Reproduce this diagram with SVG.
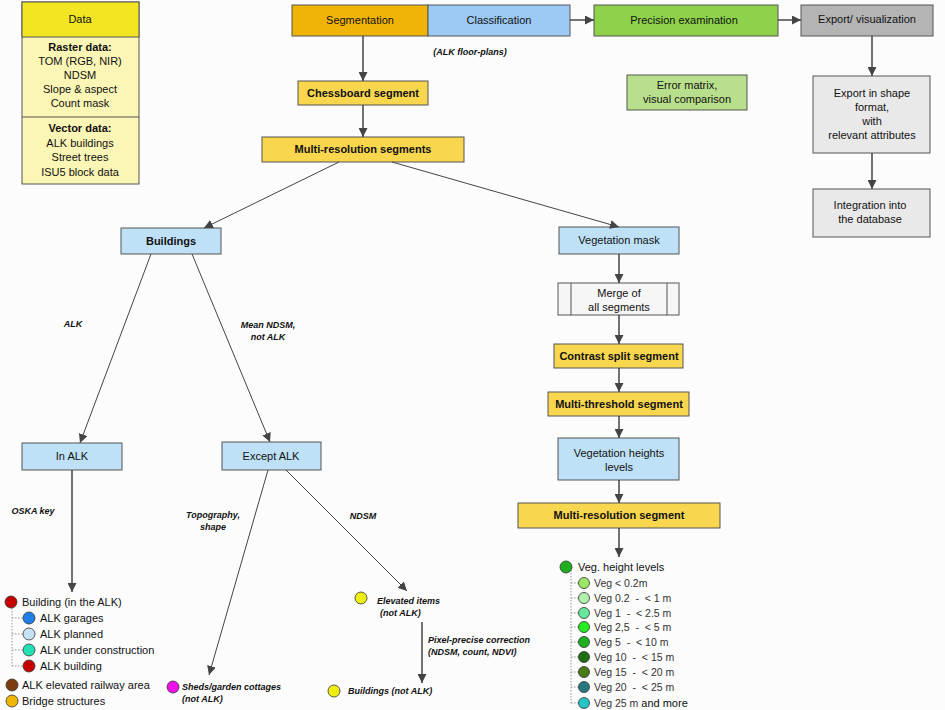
<svg xmlns="http://www.w3.org/2000/svg" width="945" height="710" viewBox="0 0 945 710">
<defs>
<marker id="ah" viewBox="0 0 10 10" refX="10" refY="5" markerWidth="9" markerHeight="9" markerUnits="userSpaceOnUse" orient="auto"><path d="M0,0 L10,5 L0,10 z" fill="#444"/></marker>
<style>
text{font-family:"Liberation Sans",Arial,sans-serif;fill:#111;}
.t{font-size:11px;text-anchor:middle;}
.b{font-weight:bold;}
.lab{font-size:9px;font-weight:bold;font-style:italic;}
.box{stroke:#555;stroke-width:1;}
.yel{fill:#f8d64e;}
.blu{fill:#bfe1f7;}
.lg{fill:#e9e9e9;}
.con line{stroke:#444;stroke-width:1;marker-end:url(#ah);}
.con .v{stroke-width:1.5;}
.tree{stroke:#999;stroke-width:1;stroke-dasharray:1.5 1.5;fill:none;}
.dot{stroke:#333;stroke-width:0.8;}
.leg{font-size:11px;}
.vleg{font-size:10.5px;fill:#333;}
</style>
</defs>
<rect width="945" height="710" fill="#fcfcfc"/>

<g id="data">
<rect x="22" y="2" width="117" height="182" fill="#fbf6b6" class="box"/>
<rect x="22" y="2" width="117" height="35" fill="#f2e622" class="box"/>
<line x1="22" y1="117" x2="139" y2="117" stroke="#555"/>
<text class="t" x="80" y="23">Data</text>
<text class="t b" x="80" y="51">Raster data:</text>
<text class="t" x="80" y="65">TOM (RGB, NIR)</text>
<text class="t" x="80" y="79">NDSM</text>
<text class="t" x="80" y="93">Slope &amp; aspect</text>
<text class="t" x="80" y="107">Count mask</text>
<text class="t b" x="80" y="132">Vector data:</text>
<text class="t" x="80" y="147">ALK buildings</text>
<text class="t" x="80" y="161">Street trees</text>
<text class="t" x="80" y="176">ISU5 block data</text>
</g>

<g id="segmentation"><rect x="292" y="5" width="136" height="31" fill="#f0b406" class="box"/><text class="t" x="360" y="24">Segmentation</text></g>
<g id="classification"><rect x="428" y="5" width="142" height="31" fill="#9ccaf4" class="box"/><text class="t" x="499" y="24">Classification</text></g>
<g id="precision"><rect x="594" y="5" width="184" height="31" fill="#8ed24c" class="box"/><text class="t" x="684" y="24">Precision examination</text></g>
<g id="export"><rect x="801" y="5" width="132" height="31" fill="#b4b4b4" class="box"/><text class="t" x="867" y="23">Export/ visualization</text></g>
<text class="lab" x="470" y="55" text-anchor="middle" font-size="10">(ALK floor-plans)</text>

<g id="chessboard"><rect x="298" y="81" width="130" height="24" class="box yel"/><text class="t b" x="363" y="97">Chessboard segment</text></g>
<g id="multires"><rect x="262" y="137" width="202" height="25" class="box yel"/><text class="t b" x="363" y="153">Multi-resolution segments</text></g>
<g id="errormatrix"><rect x="627" y="75" width="120" height="35" fill="#b8e08c" class="box"/><text class="t" x="687" y="89">Error matrix,</text><text class="t" x="687" y="103">visual comparison</text></g>
<g id="exportshape"><rect x="813" y="76" width="117" height="77" class="box lg"/>
<text class="t" x="872" y="97">Export in shape</text><text class="t" x="872" y="111">format,</text><text class="t" x="872" y="125">with</text><text class="t" x="872" y="139">relevant attributes</text></g>
<g id="integration"><rect x="813" y="189" width="117" height="48" class="box lg"/><text class="t" x="870" y="209">Integration into</text><text class="t" x="870" y="223">the database</text></g>

<g id="buildings"><rect x="121" y="228" width="100" height="26" class="box blu"/><text class="t b" x="171" y="245">Buildings</text></g>
<g id="vegmask"><rect x="559" y="227" width="120" height="27" class="box blu"/><text class="t" x="619" y="244">Vegetation mask</text></g>
<g id="merge"><rect x="558" y="283" width="121" height="32" fill="#f6f6f6" class="box"/><line x1="571" y1="283" x2="571" y2="315" stroke="#555"/><line x1="667" y1="283" x2="667" y2="315" stroke="#555"/><text class="t" x="619" y="297">Merge of</text><text class="t" x="619" y="311">all segments</text></g>
<g id="contrast"><rect x="554" y="344" width="129" height="24" class="box yel"/><text class="t b" x="619" y="360">Contrast split segment</text></g>
<g id="multithreshold"><rect x="548" y="392" width="141" height="24" class="box yel"/><text class="t b" x="619" y="408">Multi-threshold segment</text></g>
<g id="vegheights"><rect x="558" y="438" width="121" height="42" class="box blu"/><text class="t" x="619" y="457">Vegetation heights</text><text class="t" x="619" y="471">levels</text></g>
<g id="multiresseg"><rect x="518" y="503" width="202" height="25" class="box yel"/><text class="t b" x="619" y="519">Multi-resolution segment</text></g>

<g id="inalk"><rect x="22" y="443" width="100" height="27" class="box blu"/><text class="t" x="72" y="460">In ALK</text></g>
<g id="exceptalk"><rect x="222" y="442" width="99" height="28" class="box blu"/><text class="t" x="271" y="460">Except ALK</text></g>

<g class="con" id="connectors">
<line class="v" x1="363" y1="36" x2="363" y2="81"/>
<line class="v" x1="363" y1="105" x2="363" y2="137"/>
<line class="v" x1="570" y1="20" x2="594" y2="20"/>
<line class="v" x1="778" y1="20" x2="801" y2="20"/>
<line class="v" x1="872" y1="36" x2="872" y2="76"/>
<line class="v" x1="872" y1="153" x2="872" y2="189"/>
<line x1="339" y1="162" x2="204" y2="228"/>
<line x1="392" y1="162" x2="619" y2="227"/>
<line x1="151" y1="254" x2="80" y2="443"/>
<line x1="192" y1="254" x2="270" y2="442"/>
<line class="v" x1="72" y1="470" x2="72" y2="592"/>
<line x1="268" y1="470" x2="209" y2="675"/>
<line x1="286" y1="470" x2="407" y2="591"/>
<line class="v" x1="422" y1="622" x2="422" y2="683"/>
<line class="v" x1="619" y1="254" x2="619" y2="283"/>
<line class="v" x1="619" y1="315" x2="619" y2="344"/>
<line class="v" x1="619" y1="368" x2="619" y2="392"/>
<line class="v" x1="619" y1="416" x2="619" y2="438"/>
<line class="v" x1="619" y1="480" x2="619" y2="503"/>
<line class="v" x1="619" y1="528" x2="619" y2="557"/>
</g>

<g id="labels">
<text class="lab" x="73" y="327" text-anchor="middle">ALK</text>
<text class="lab" x="268" y="328" text-anchor="middle">Mean NDSM,</text>
<text class="lab" x="268" y="340" text-anchor="middle">not ALK</text>
<text class="lab" x="33" y="514" text-anchor="middle">OSKA key</text>
<text class="lab" x="213" y="518" text-anchor="middle">Topography,</text>
<text class="lab" x="213" y="530" text-anchor="middle">shape</text>
<text class="lab" x="363" y="519" text-anchor="middle">NDSM</text>
<text class="lab" x="428" y="643">Pixel-precise correction</text>
<text class="lab" x="428" y="655">(NDSM, count, NDVI)</text>
</g>

<g id="legend-buildings">
<path class="tree" d="M12,602 V666 M12,618 H24 M12,634 H24 M12,650 H24 M12,666 H24"/>
<circle class="dot" cx="11" cy="602" r="6" fill="#c40000"/>
<text class="leg" x="22" y="606">Building (in the ALK)</text>
<circle class="dot" cx="29" cy="618" r="6" fill="#1f7fe6"/>
<text class="leg" x="40" y="622">ALK garages</text>
<circle class="dot" cx="29" cy="634" r="6" fill="#c4e2f4"/>
<text class="leg" x="40" y="638">ALK planned</text>
<circle class="dot" cx="29" cy="650" r="6" fill="#22e0b4"/>
<text class="leg" x="40" y="654">ALK under construction</text>
<circle class="dot" cx="29" cy="666" r="6" fill="#c40000"/>
<text class="leg" x="40" y="670">ALK building</text>
<circle class="dot" cx="12" cy="685" r="6" fill="#7a3c10"/>
<text class="leg" x="22" y="689">ALK elevated railway area</text>
<circle class="dot" cx="12" cy="701" r="6" fill="#f0b406"/>
<text class="leg" x="22" y="705">Bridge structures</text>
</g>

<g id="sheds"><circle class="dot" cx="173" cy="687" r="6" fill="#ee10e6"/><text class="lab" x="182" y="690">Sheds/garden cottages</text><text class="lab" x="182" y="702">(not ALK)</text></g>
<g id="elevated"><circle class="dot" cx="361" cy="598" r="6" fill="#eeee10"/><text class="lab" x="377" y="604">Elevated items</text><text class="lab" x="380" y="616">(not ALK)</text></g>
<g id="buildingsnotalk"><circle class="dot" cx="334" cy="691" r="6" fill="#eeee10"/><text class="lab" x="348" y="694">Buildings (not ALK)</text></g>

<g id="legend-veg">
<path class="tree" d="M571,567 V703 M571,583 H578 M571,598 H578 M571,613 H578 M571,627 H578 M571,642 H578 M571,657 H578 M571,672 H578 M571,687 H578 M571,703 H578"/>
<circle class="dot" cx="566" cy="567" r="6" fill="#1fae1f"/>
<text x="578" y="571" font-size="11px">Veg. height levels</text>
<circle class="dot" cx="584" cy="583" r="5.5" fill="#99e868"/><text class="vleg" x="594" y="587">Veg &lt; 0.2m</text>
<circle class="dot" cx="584" cy="598" r="5.5" fill="#aef0ac"/><text class="vleg" x="594" y="602" xml:space="preserve">Veg 0.2  -  &lt; 1 m</text>
<circle class="dot" cx="584" cy="613" r="5.5" fill="#66e89c"/><text class="vleg" x="594" y="617" xml:space="preserve">Veg 1  -  &lt; 2.5 m</text>
<circle class="dot" cx="584" cy="627" r="5.5" fill="#22ee22"/><text class="vleg" x="594" y="631" xml:space="preserve">Veg 2,5  -  &lt; 5 m</text>
<circle class="dot" cx="584" cy="642" r="5.5" fill="#1fae1f"/><text class="vleg" x="594" y="646" xml:space="preserve">Veg 5  -  &lt; 10 m</text>
<circle class="dot" cx="584" cy="657" r="5.5" fill="#1e6e12"/><text class="vleg" x="594" y="661" xml:space="preserve">Veg 10  -  &lt; 15 m</text>
<circle class="dot" cx="584" cy="672" r="5.5" fill="#4c7a14"/><text class="vleg" x="594" y="676" xml:space="preserve">Veg 15  -  &lt; 20 m</text>
<circle class="dot" cx="584" cy="687" r="5.5" fill="#267a7e"/><text class="vleg" x="594" y="691" xml:space="preserve">Veg 20  -  &lt; 25 m</text>
<circle class="dot" cx="584" cy="703" r="5.5" fill="#22c4c8"/><text class="vleg" x="594" y="707">Veg 25 m <tspan fill="#111" font-size="11px">and more</tspan></text>
</g>
</svg>
